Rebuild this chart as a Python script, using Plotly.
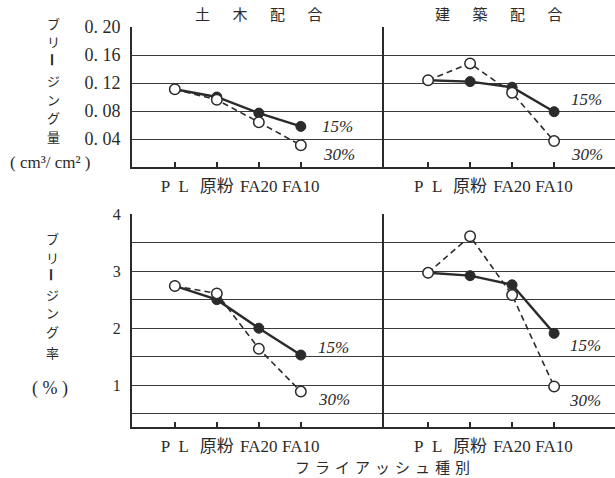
import plotly.graph_objects as go

categories = ["P\u2002L", "原粉", "FA20", "FA10"]

# 土木配合 - bleeding amount (cm3/cm2)
civil_amount_15 = [0.111, 0.100, 0.077, 0.058]
civil_amount_30 = [0.111, 0.096, 0.064, 0.031]
# 建築配合 - bleeding amount
arch_amount_15 = [0.124, 0.122, 0.114, 0.079]
arch_amount_30 = [0.124, 0.148, 0.106, 0.037]
# 土木配合 - bleeding rate (%)
civil_rate_15 = [2.74, 2.50, 2.00, 1.53]
civil_rate_30 = [2.74, 2.61, 1.64, 0.89]
# 建築配合 - bleeding rate (%)
arch_rate_15 = [2.97, 2.92, 2.76, 1.91]
arch_rate_30 = [2.97, 3.61, 2.58, 0.98]

amount_ticks = [0.04, 0.08, 0.12, 0.16, 0.20]
amount_ticktext = ["0. 04", "0. 08", "0. 12", "0. 16", "0. 20"]
rate_ticks = [0.5, 1, 1.5, 2, 2.5, 3, 3.5, 4]
rate_ticktext = ["", "1", "", "2", "", "3", "", "4"]

amount_title_chars = ["ブ", "リ", "ー", "ジ", "ン", "グ", "量"]
rate_title_chars = ["ブ", "リ", "ー", "ジ", "ン", "グ", "率"]

INK = "#2b2b2b"
FONT = "Liberation Serif, Noto Sans CJK JP"
CJK = "Noto Sans CJK JP"

fig = go.Figure()
xs = list(range(len(categories)))

panels = [
    ("x", "y", civil_amount_15, civil_amount_30),
    ("x2", "y2", arch_amount_15, arch_amount_30),
    ("x3", "y3", civil_rate_15, civil_rate_30),
    ("x4", "y4", arch_rate_15, arch_rate_30),
]
for xa, ya, s15, s30 in panels:
    fig.add_trace(go.Scatter(x=xs, y=s15, xaxis=xa, yaxis=ya, mode="lines+markers",
                             line=dict(color=INK, width=2.4),
                             marker=dict(color=INK, size=10, line=dict(color=INK, width=1)),
                             showlegend=False, cliponaxis=False))
    fig.add_trace(go.Scatter(x=xs, y=s30, xaxis=xa, yaxis=ya, mode="lines+markers",
                             line=dict(color=INK, width=1.6, dash="6px,4px"),
                             marker=dict(color="white", size=10.5, line=dict(color=INK, width=1.5)),
                             showlegend=False, cliponaxis=False))

W, H = 615, 478
xL = [132 / W, 384 / W]
xR = [384 / W, 1.0]
yT = [1 - 167 / H, 1 - 27 / H]
yB = [1 - 427 / H, 1 - 214 / H]

def xaxis(domain, rng, anchor):
    return dict(domain=domain, range=rng, anchor=anchor, tickmode="array", tickvals=xs,
                ticktext=categories, ticks="inside", ticklen=5, tickwidth=1.5, tickcolor=INK,
                showline=True, linewidth=2, linecolor=INK, showgrid=False, zeroline=False,
                tickfont=dict(family=FONT, size=17, color=INK), ticklabelstandoff=3,
                automargin=False)

def yaxis(domain, rng, anchor, tv, tt, labels, size):
    return dict(domain=domain, range=rng, anchor=anchor, tickmode="array", tickvals=tv,
                ticktext=tt, showticklabels=labels, ticks="", showline=True, linewidth=2,
                linecolor=INK, showgrid=True, gridcolor="#3a3a3a", gridwidth=1.4,
                zeroline=False, tickfont=dict(family=FONT, size=size, color=INK),
                ticklabelstandoff=6, automargin=False)

fig.update_layout(
    width=W, height=H, margin=dict(l=0, r=0, t=0, b=0, pad=0, autoexpand=False),
    paper_bgcolor="white", plot_bgcolor="white",
    xaxis=xaxis(xL, [-1.02, 4.98], "y"),
    xaxis2=xaxis(xR, [-1.05, 4.45], "y2"),
    xaxis3=xaxis(xL, [-1.02, 4.98], "y3"),
    xaxis4=xaxis(xR, [-1.05, 4.45], "y4"),
    yaxis=yaxis(yT, [0, 0.20], "x", amount_ticks, amount_ticktext, True, 18),
    yaxis2=yaxis(yT, [0, 0.20], "x2", amount_ticks, amount_ticktext, False, 18),
    yaxis3=yaxis(yB, [0.27, 4], "x3", rate_ticks, rate_ticktext, True, 16),
    yaxis4=yaxis(yB, [0.27, 4], "x4", rate_ticks, rate_ticktext, False, 16),
)

def ann(text, x, y, size=15, family=FONT, italic=False, textangle=0):
    t = f"<i>{text}</i>" if italic else text
    fig.add_annotation(text=t, x=x / W, y=1 - y / H, xref="paper", yref="paper",
                       showarrow=False, xanchor="center", yanchor="middle",
                       textangle=textangle, borderpad=0,
                       font=dict(family=family, size=size, color=INK))

# panel titles
ann("土\u3000\u2002木\u3000\u2002配\u3000\u2002合", 259, 13, size=15, family=CJK)
ann("建\u3000\u2002築\u3000\u2002配\u3000\u2002合", 499, 13, size=15, family=CJK)

# series labels
for x, y, t in [(337, 126, "15%"), (339, 154, "30%"), (586, 99, "15%"), (587, 154, "30%"),
                (333, 347, "15%"), (334, 399, "30%"), (585, 345, "15%"), (585, 400, "30%")]:
    ann(t, x, y, size=17, italic=True)

# vertical axis titles (vertical writing: one character per position, long-vowel mark turned)
amount_ys = [23, 42, 60, 81, 99, 117, 136]
rate_ys = [238, 257, 275, 294, 312, 331, 352]
for ch, y in zip(amount_title_chars, amount_ys):
    if ch == "ー":
        ann("<b>ー</b>", 53, y, size=13.5, family=CJK, textangle=90)
    else:
        ann(ch, 53, y, size=13, family=CJK)
for ch, y in zip(rate_title_chars, rate_ys):
    if ch == "ー":
        ann("<b>ー</b>", 52, y, size=13.5, family=CJK, textangle=90)
    else:
        ann(ch, 52, y, size=13, family=CJK)
ann("( cm³/ cm² )", 50, 163, size=17)
ann("( % )", 50, 388, size=18)

# x-axis title
ann("\u2004".join("フライアッシュ種別"), 382, 466, size=15, family=CJK)

fig.write_html("out.html", config={"displayModeBar": False},
               post_script="document.body.style.margin='0';")
